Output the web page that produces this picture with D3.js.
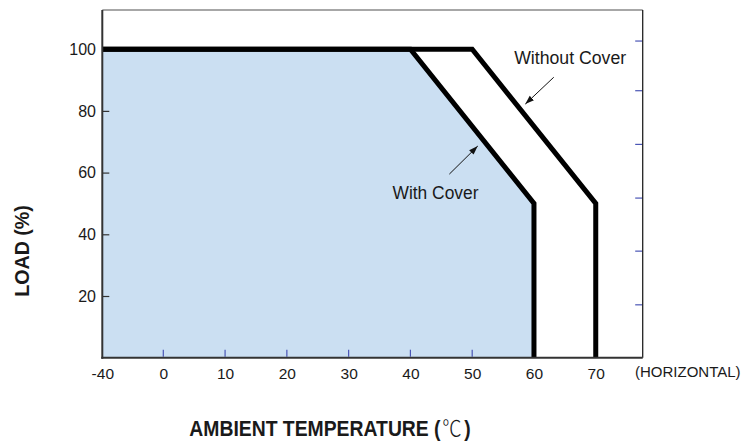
<!DOCTYPE html>
<html>
<head>
<meta charset="utf-8">
<script src="https://cdn.jsdelivr.net/npm/d3@7/dist/d3.min.js"></script>
<style>
  html, body { margin: 0; padding: 0; background: #fff; }
  svg { display: block; }
  text { font-family: "Liberation Sans", Arial, sans-serif; fill: #1a1a1a; }
  .tick text { font-size: 15.5px; font-family: "Liberation Sans", Arial, sans-serif; fill: #1a1a1a; }
  .yax .tick text { font-size: 16px; }
</style>
</head>
<body>
<svg id="chart" width="742" height="443"></svg>
<script>
// ---- data ----
const xTicks = [-40, 0, 10, 20, 30, 40, 50, 60, 70];
const xInnerTicks = [0, 10, 20, 30, 40, 50];
const yTicks = [20, 40, 60, 80, 100];
const rightTicks = [17.3, 34.7, 51.9, 69.3, 86.7, 102.8];

const withCoverTemp = [-40, 40, 60, 60];
const withCoverLoad = [100, 100, 50, 0];
const withoutCoverTemp = [-40, 50, 70, 70];
const withoutCoverLoad = [100, 100, 50, 0];

const annotations = [
  { label: "Without Cover", textT: 56.8, textL: 95.2, tailT: 63.2, tailL: 90.9, tipT: 58.6, tipL: 82.2 },
  { label: "With Cover", textT: 37.1, textL: 51.4, tailT: 46.3, tailL: 59.5, tipT: 50.9, tipL: 68.6 }
];

const xTitle = "AMBIENT TEMPERATURE (";
const xUnit = "\u2103";
const yTitle = "LOAD (%)";
const horizontalNote = "(HORIZONTAL)";

// ---- layout ----
const L = 102.3, R = 642.7, T = 10, B = 357.7;
const svg = d3.select("#chart");

// broken axis: -40 sits one interval left of 0
const x = d3.scaleLinear().domain([-40, 0, 77.6]).range([L, 163.3, R]);
const y = d3.scaleLinear().domain([0, 112.7]).range([B, T]);

const pts = (ts, ls) => ts.map((t, i) => [x(t), y(ls[i])]);

// fill under "with cover"
const fillPts = [[x(withCoverTemp[0]), y(0)]].concat(pts(withCoverTemp, withCoverLoad));
svg.append("path")
  .attr("d", d3.line()(fillPts) + "Z")
  .attr("fill", "#cbdff2");

// bottom axis (inner blue ticks only for 0..50)
const gx = svg.append("g").attr("transform", `translate(0,${B})`)
  .call(d3.axisBottom(x).tickValues(xTicks).tickSizeInner(0).tickSizeOuter(0).tickPadding(10)
        .tickFormat(d => String(d)));
gx.select(".domain").remove();
gx.selectAll("line").remove();

svg.append("g").attr("transform", `translate(0,${B})`)
  .selectAll("line").data(xInnerTicks).join("line")
  .attr("x1", d => x(d)).attr("x2", d => x(d))
  .attr("y1", -1).attr("y2", -8)
  .attr("stroke", "#4a55b5").attr("stroke-width", 1.2);

// left axis
const gy = svg.append("g").attr("class", "yax").attr("transform", `translate(${L},0)`)
  .call(d3.axisLeft(y).tickValues(yTicks).tickSizeInner(-7).tickSizeOuter(0).tickPadding(6.3)
        .tickFormat(d => String(d)));
gy.select(".domain").remove();
gy.selectAll("line").attr("stroke", "#333").attr("stroke-width", 1.2);

// right blue ticks
const gr = svg.append("g").attr("transform", `translate(${R},0)`)
  .call(d3.axisRight(y).tickValues(rightTicks).tickSizeInner(-7.5).tickSizeOuter(0).tickFormat(""));
gr.select(".domain").remove();
gr.selectAll("line").attr("stroke", "#4a55b5").attr("stroke-width", 1.2);

// frame
svg.append("line").attr("x1", L).attr("x2", R).attr("y1", T).attr("y2", T)
  .attr("stroke", "#8a8a8a").attr("stroke-width", 1.3);
svg.append("line").attr("x1", R).attr("x2", R).attr("y1", T).attr("y2", B)
  .attr("stroke", "#222").attr("stroke-width", 1.3);

// curves
const line = d3.line();
svg.append("path").attr("d", line(pts(withoutCoverTemp, withoutCoverLoad)))
  .attr("fill", "none").attr("stroke", "#000").attr("stroke-width", 5).attr("stroke-linejoin", "miter");
svg.append("path").attr("d", line(pts(withCoverTemp, withCoverLoad)))
  .attr("fill", "none").attr("stroke", "#000").attr("stroke-width", 5).attr("stroke-linejoin", "miter");

svg.append("line").attr("x1", L).attr("x2", L).attr("y1", T).attr("y2", B + 1)
  .attr("stroke", "#333").attr("stroke-width", 2);
svg.append("line").attr("x1", L - 1).attr("x2", R).attr("y1", B).attr("y2", B)
  .attr("stroke", "#333").attr("stroke-width", 2);

// arrow marker
svg.append("defs").append("marker")
  .attr("id", "arr").attr("viewBox", "0 0 10 10").attr("refX", 10).attr("refY", 5)
  .attr("markerWidth", 9).attr("markerHeight", 9).attr("markerUnits", "userSpaceOnUse")
  .attr("orient", "auto")
  .append("path").attr("d", "M0,1.5 L10,5 L0,8.5 Z").attr("fill", "#111");

annotations.forEach(a => {
  svg.append("line")
    .attr("x1", x(a.tailT)).attr("y1", y(a.tailL))
    .attr("x2", x(a.tipT)).attr("y2", y(a.tipL))
    .attr("stroke", "#111").attr("stroke-width", 1).attr("marker-end", "url(#arr)");
  svg.append("text")
    .attr("x", x(a.textT)).attr("y", y(a.textL))
    .attr("font-size", 18)
    .attr("textLength", a.label === "With Cover" ? 86 : 112)
    .attr("lengthAdjust", "spacingAndGlyphs")
    .text(a.label);
});

// axis titles
svg.append("text").attr("x", 635).attr("y", 376.5).attr("font-size", 15).text(horizontalNote);

const xt = svg.append("text")
  .attr("transform", "translate(189.3,435.7) scale(0.88,1)")
  .attr("font-size", 22);
xt.append("tspan").attr("font-weight", "bold").text(xTitle);
xt.append("tspan").attr("dx", 2).style("font-family", "'Noto Sans CJK SC', sans-serif").attr("font-weight", 300).text(xUnit);
xt.append("tspan").attr("dx", 3).attr("font-weight", "bold").text(")");

svg.append("text")
  .attr("transform", `translate(28.7,251) rotate(-90)`)
  .attr("text-anchor", "middle")
  .attr("font-size", 21).attr("font-weight", "bold")
  .attr("textLength", 91.7).attr("lengthAdjust", "spacingAndGlyphs")
  .text(yTitle);
</script>
</body>
</html>
